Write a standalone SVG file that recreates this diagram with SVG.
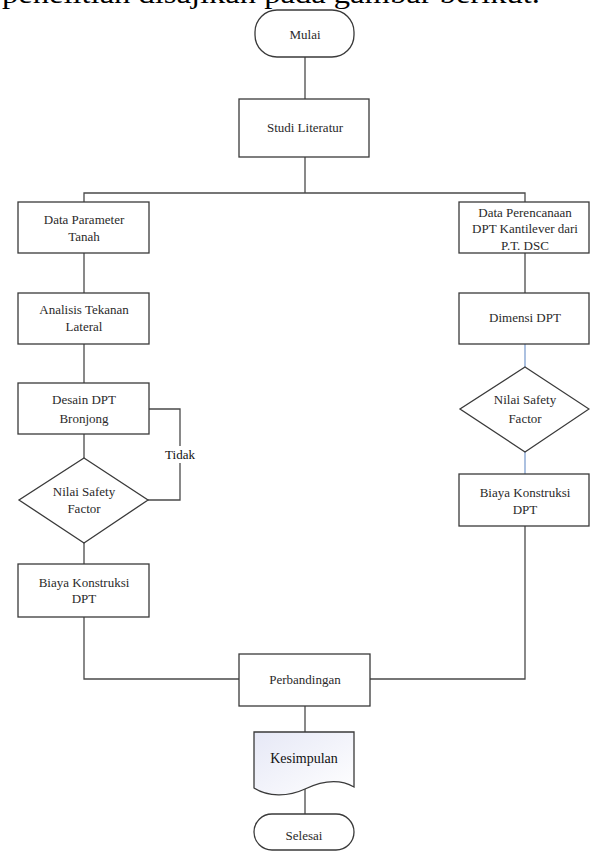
<svg xmlns="http://www.w3.org/2000/svg" width="590" height="852" viewBox="0 0 590 852">
<style>
.n{fill:#fff;stroke:#3a3a3a;stroke-width:1.3}
.c{fill:none;stroke:#4a4a4a;stroke-width:1.3}
.b{fill:none;stroke:#7f9fcf;stroke-width:1.3}
text{font-family:"Liberation Serif","Times New Roman",serif;font-size:13px;fill:#2a2a2a;text-anchor:middle}
.head{font-size:27px;fill:#000;text-anchor:start}
</style>
<defs>
<linearGradient id="g" x1="0" y1="0" x2="1" y2="1">
<stop offset="0" stop-color="#e6e8f6"/>
<stop offset="1" stop-color="#ffffff"/>
</linearGradient>
</defs>
<text class="head" x="2" y="3" textLength="538" lengthAdjust="spacingAndGlyphs">penelitian disajikan pada gambar berikut.</text>
<g id="connectors">
<line class="c" x1="305" y1="57" x2="305" y2="99"/>
<line class="c" x1="305" y1="157" x2="305" y2="193"/>
<polyline class="c" points="84,202 84,193 525,193 525,202"/>
<line class="c" x1="84" y1="253" x2="84" y2="293"/>
<line class="c" x1="84" y1="344" x2="84" y2="383"/>
<line class="c" x1="84" y1="434" x2="84" y2="458"/>
<polyline class="c" points="149,409 180,409 180,500 148,500"/>
<line class="c" x1="84" y1="543" x2="84" y2="564"/>
<polyline class="c" points="84,617 84,679 239,679"/>
<line class="c" x1="525" y1="253" x2="525" y2="293"/>
<line class="b" x1="525" y1="344" x2="525" y2="367"/>
<line class="b" x1="525" y1="452" x2="525" y2="474"/>
<polyline class="c" points="525,526 525,679 370,679"/>
<line class="c" x1="305" y1="706" x2="305" y2="732"/>
<line class="c" x1="305" y1="789" x2="305" y2="814"/>
<rect x="164" y="446" width="32" height="17" fill="#fff"/>
<text x="180" y="459" style="fill:#111">Tidak</text>
</g>
<g id="mulai"><rect class="n" x="255" y="10" width="99" height="47" rx="22"/><text x="305" y="39">Mulai</text></g>
<g id="studi"><rect class="n" x="239" y="99" width="130" height="58"/><text x="305" y="132">Studi Literatur</text></g>
<g id="data-param"><rect class="n" x="18" y="202" width="131" height="51"/><text x="84" y="224">Data Parameter</text><text x="84" y="241">Tanah</text></g>
<g id="analisis"><rect class="n" x="18" y="293" width="131" height="51"/><text x="84" y="314">Analisis Tekanan</text><text x="84" y="331">Lateral</text></g>
<g id="desain"><rect class="n" x="18" y="383" width="131" height="51"/><text x="84" y="404">Desain DPT</text><text x="84" y="423">Bronjong</text></g>
<g id="sf-left"><polygon class="n" points="84,458 148,500 84,543 19,500"/><text x="84" y="496">Nilai Safety</text><text x="84" y="513">Factor</text></g>
<g id="biaya-left"><rect class="n" x="18" y="564" width="131" height="53"/><text x="84" y="587">Biaya Konstruksi</text><text x="84" y="603">DPT</text></g>
<g id="data-rencana"><rect class="n" x="459" y="202" width="130" height="51"/><text x="525" y="217">Data Perencanaan</text><text x="525" y="233">DPT Kantilever dari</text><text x="525" y="250">P.T. DSC</text></g>
<g id="dimensi"><rect class="n" x="459" y="293" width="130" height="51"/><text x="525" y="322">Dimensi DPT</text></g>
<g id="sf-right"><polygon class="n" points="525,367 589,409 525,452 460,409"/><text x="525" y="404">Nilai Safety</text><text x="525" y="423">Factor</text></g>
<g id="biaya-right"><rect class="n" x="459" y="474" width="130" height="52"/><text x="525" y="497">Biaya Konstruksi</text><text x="525" y="514">DPT</text></g>
<g id="perbandingan"><rect class="n" x="239" y="654" width="131" height="52"/><text x="305" y="684">Perbandingan</text></g>
<g id="kesimpulan"><path d="M254,732 H354 V787 C340,779 322,781 305,789 C288,797 268,797 254,788 Z" fill="url(#g)" stroke="#3a3a3a" stroke-width="1.3"/><text x="304" y="763" style="fill:#111;font-size:14px">Kesimpulan</text></g>
<g id="selesai"><rect class="n" x="254" y="814" width="100" height="36" rx="18"/><text x="304" y="840">Selesai</text></g>
</svg>
